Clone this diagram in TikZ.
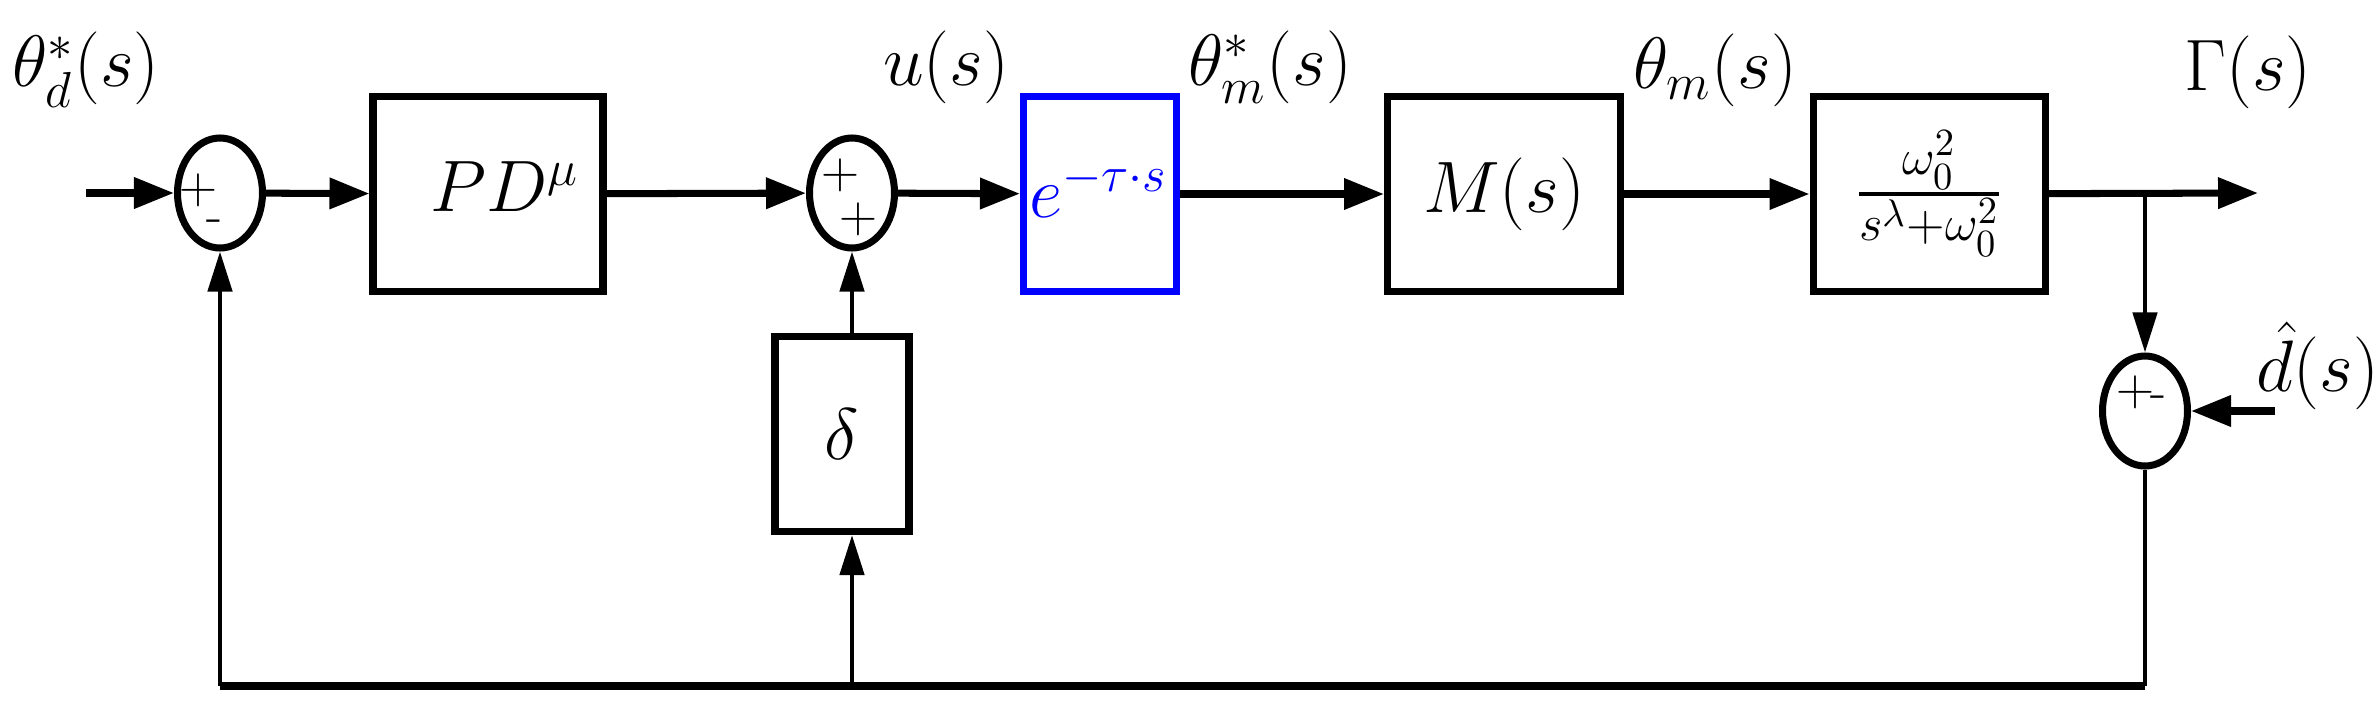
\documentclass[tikz,border=0pt]{standalone}
\usepackage{amsmath, amssymb}
\usetikzlibrary{shapes.geometric,arrows.meta}
\tikzset{
  blk/.style={draw, line width=2pt, inner sep=0pt},
  sumj/.style={draw, ellipse, line width=2pt, minimum width=0.85cm, minimum height=1.1cm, inner sep=0pt},
  lbl/.style={font=\fontsize{22}{26}\selectfont},
  sgn/.style={font=\fontsize{15}{17}\selectfont, inner sep=0pt},
  sig/.style={line width=2pt, -{Triangle[length=0.4cm,width=0.3cm]}},
  fba/.style={line width=1.3pt, -{Triangle[length=0.4cm,width=0.24cm]}}
}
\begin{document}
\begin{tikzpicture}
	\useasboundingbox (0,0) rectangle (23.79,7.12);
	% blocks
	\node[sumj] (s1) at (2.20,5.19) {};
	\node[blk, minimum width=2.30cm, minimum height=1.95cm] (pd) at (4.88,5.18) {};
	\node[lbl] (pdt) at (5.05,5.25) {$PD^{\mu}$};
	\node[sumj] (s2) at (8.52,5.19) {};
	\node[blk, draw=blue, minimum width=1.53cm, minimum height=1.95cm] (dl) at (11.00,5.18) {};
	\node[text=blue, anchor=west, font=\fontsize{21}{24}\selectfont, inner sep=1pt] (dlt) at (10.25,5.22) {$e^{-\tau\cdot s}$};
	\node[blk, minimum width=1.34cm, minimum height=1.95cm] (de) at (8.42,2.78) {\fontsize{22}{26}\selectfont$\delta$};
	\node[blk, minimum width=2.33cm, minimum height=1.95cm] (ms) at (15.04,5.18) {\fontsize{22}{26}\selectfont$M(s)$};
	\node[blk, minimum width=2.32cm, minimum height=1.95cm] (fr) at (19.29,5.18) {\fontsize{22}{26}\selectfont$\frac{\omega_0^2}{s^{\lambda}+\omega_0^2}$};
	\node[sumj] (s3) at (21.45,3.01) {};
	% signs
	\node[sgn] (p1) at (1.98,5.22) {+};
	\node[sgn] (m1) at (2.14,4.86) {-};
	\node[sgn] (p2) at (8.40,5.37) {+};
	\node[sgn] (p3) at (8.58,4.93) {+};
	\node[sgn] (p4) at (21.35,3.20) {+};
	\node[sgn] (m4) at (21.58,3.10) {-};
	% labels
	\node[lbl] (lin) at (0.86,6.42) {$\theta_d^*(s)$};
	\node[lbl] (lu) at (9.46,6.45) {$u(s)$};
	\node[lbl] (lths) at (12.70,6.45) {$\theta_m^*(s)$};
	\node[lbl] (lth) at (17.15,6.42) {$\theta_m(s)$};
	\node[lbl] (lg) at (22.48,6.40) {$\Gamma(s)$};
	\node[lbl] (ld) at (23.18,3.46) {$\hat{d}(s)$};
	% connectors
	\coordinate (in) at (0.86,5.19);
	\coordinate (out) at (22.58,5.19);
	\coordinate (br) at (s3 |- out);
	\coordinate (dn) at (22.75,3.01);
	\coordinate (bot3) at (21.45,0.26);
	\coordinate (botd) at (8.52,0.26);
	\coordinate (bot1) at (2.20,0.26);
	\draw[sig] (in) -- (s1);
	\draw[sig] (s1) -- (pd);
	\draw[sig] (pd) -- (s2);
	\draw[sig] (s2) -- (dl);
	\draw[sig] (dl) -- (ms);
	\draw[sig] (ms) -- (fr);
	\draw[sig] (fr) -- (out);
	\draw[fba] (br) -- (s3);
	\draw[sig] (dn) -- (s3);
	\draw[fba] (de.north -| s2) -- (s2);
	\draw[line width=1.3pt] (s3) -- (bot3);
	\draw[line width=2pt] (bot3) -- (bot1);
	\draw[fba] (bot1) -- (s1);
	\draw[fba] (botd) -- (de.south -| botd);
\end{tikzpicture}
\end{document}
